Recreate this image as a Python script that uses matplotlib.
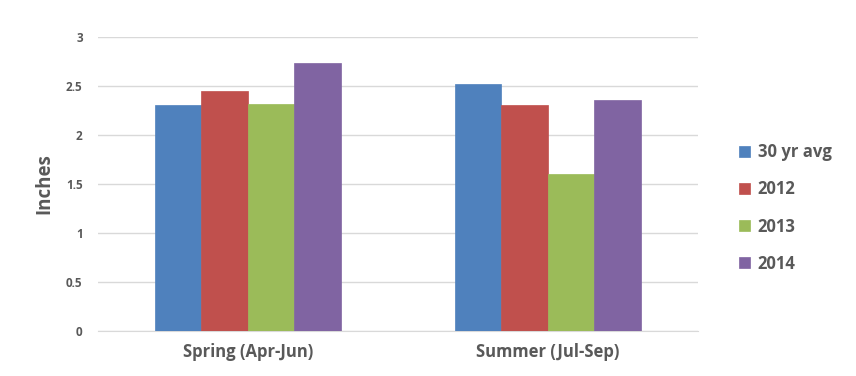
import matplotlib.pyplot as plt
import numpy as np

# dati
categorie = ['Spring (Apr-Jun)', 'Summer (Jul-Sep)']
serie = ['30 yr avg', '2012', '2013', '2014']
valori = {
    '30 yr avg': [2.31, 2.52],
    '2012': [2.45, 2.31],
    '2013': [2.32, 1.60],
    '2014': [2.73, 2.36],
}
colori = ['#4F81BD', '#C0504D', '#9BBB59', '#8064A2']
grigio = '#595959'

plt.rcParams['font.family'] = ['Open Sans', 'DejaVu Sans']

fig = plt.figure(figsize=(8.56, 3.76), dpi=100)
ax = fig.add_axes([0.1145, 0.1197, 0.7005, 0.7819])

x = np.arange(len(categorie))
larghezza = 0.155
for i, nome in enumerate(serie):
    off = (i - 1.5) * larghezza
    ax.bar(x + off, valori[nome], width=larghezza, color=colori[i],
           label=nome, zorder=3, edgecolor=colori[i], linewidth=0.5)

ax.set_xlim(-0.5, 1.5)
ax.set_ylim(0, 3)
ax.set_yticks(np.arange(0, 3.01, 0.5))
ax.set_yticklabels(['0', '0.5', '1', '1.5', '2', '2.5', '3'])
ax.set_xticks(x)
ax.set_xticklabels(categorie, fontsize=12, fontweight='bold', color=grigio)
ax.tick_params(axis='y', labelsize=8.5, colors=grigio, length=0, pad=11)
ax.tick_params(axis='x', length=0, pad=9)
for lbl in ax.get_yticklabels():
    lbl.set_fontweight('bold')

ax.grid(axis='y', color='#D9D9D9', linewidth=1, zorder=0)
for s in ['top', 'right', 'left']:
    ax.spines[s].set_visible(False)
ax.spines['bottom'].set_color('#D9D9D9')

ax.set_ylabel('Inches', fontsize=13.5, fontweight='bold', color=grigio, labelpad=8)

leg = fig.legend(loc='center left', bbox_to_anchor=(0.846, 0.447), frameon=False,
                 prop={'size': 12, 'weight': 'bold'}, handlelength=0.65,
                 handleheight=0.65, handletextpad=0.45, labelspacing=1.15)
for t in leg.get_texts():
    t.set_color(grigio)

fig.savefig('out.png', dpi=100)
